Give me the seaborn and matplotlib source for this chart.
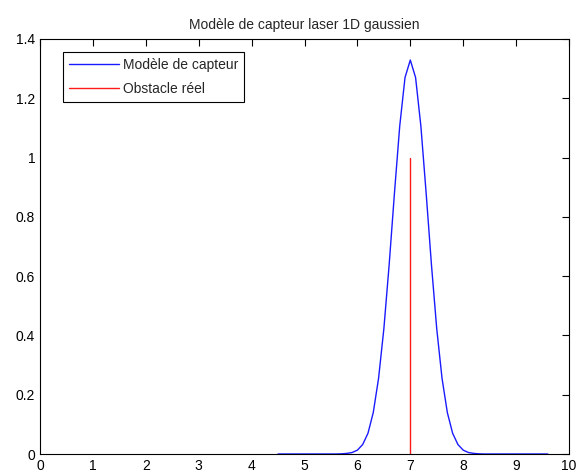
import matplotlib
matplotlib.use("Agg")
import matplotlib.pyplot as plt
import seaborn as sns

# Data
x_sensor = [round(4.5 + 0.1 * i, 1) for i in range(52)]
y_sensor = [0.0] * 12 + [
    0.0006, 0.002, 0.005, 0.013, 0.032, 0.070, 0.140, 0.255, 0.422, 0.638, 0.879, 1.106, 1.270,
    1.329,
    1.270, 1.106, 0.879, 0.638, 0.422, 0.255, 0.140, 0.070, 0.032, 0.013, 0.005, 0.002, 0.0006,
]
y_sensor = y_sensor + [0.0] * (len(x_sensor) - len(y_sensor))
x_obstacle = [7, 7]
y_obstacle = [0, 1]
x_ticks = [0, 1, 2, 3, 4, 5, 6, 7, 8, 9, 10]
y_ticks = [0, 0.2, 0.4, 0.6, 0.8, 1, 1.2, 1.4]
y_ticklabels = ["0", "0.2", "0.4", "0.6", "0.8", "1", "1.2", "1.4"]

sns.set_style("white")
plt.rcParams['font.family'] = ['Liberation Sans', 'DejaVu Sans']

W, H = 576, 475
fig = plt.figure(figsize=(W / 100, H / 100), dpi=100)
ax = fig.add_axes([40 / W, 1 - 454 / H, (569 - 40) / W, (454 - 39) / H])

sns.lineplot(x=x_sensor, y=y_sensor, ax=ax, color="#1a1aff", linewidth=1.0,
             label="Modèle de capteur", sort=False, estimator=None)
sns.lineplot(x=x_obstacle, y=y_obstacle, ax=ax, color="#ff1a1a", linewidth=1.0,
             label="Obstacle réel", sort=False, estimator=None)

ax.set_xlim(0, 10)
ax.set_ylim(0, 1.4)
ax.set_xticks(x_ticks)
ax.set_xticklabels([str(t) for t in x_ticks])
ax.set_yticks(y_ticks)
ax.set_yticklabels(y_ticklabels)
ax.tick_params(direction="in", length=5, width=0.8, top=True, right=True,
               labelsize=10, pad=3.5, colors="black")
for s in ax.spines.values():
    s.set_color("black")
    s.set_linewidth(0.8)
ax.set_title("Modèle de capteur laser 1D gaussien", fontsize=10, pad=7)

leg = ax.legend(loc="upper left", fontsize=10, frameon=True, fancybox=False,
                edgecolor="black", handlelength=3.6, borderpad=0.43,
                labelspacing=0.7, handletextpad=0.3, borderaxespad=0.0,
                bbox_to_anchor=(0.0435, 0.9687), framealpha=1)
leg.get_frame().set_linewidth(0.8)

fig.savefig("out.png", dpi=100)
